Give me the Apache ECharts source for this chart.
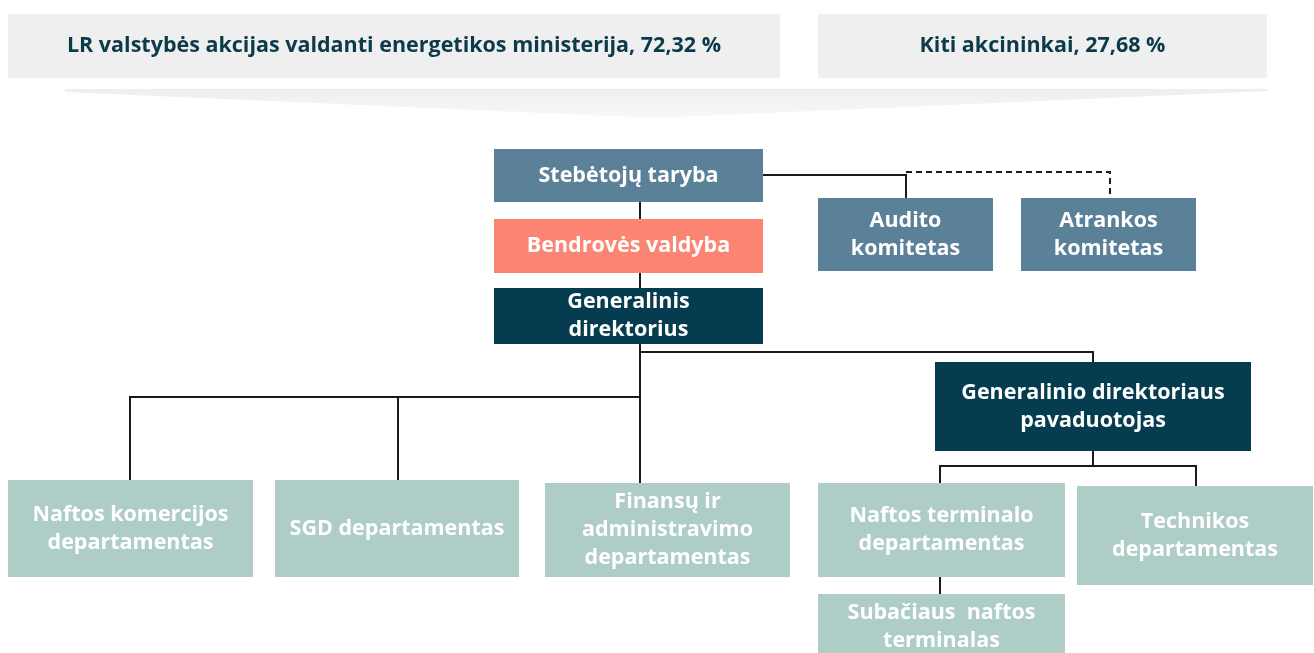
<!DOCTYPE html>
<html>
<head>
<meta charset="utf-8">
<script src="https://cdn.jsdelivr.net/npm/echarts@6/dist/echarts.min.js"></script>
<style>
  html, body { margin: 0; padding: 0; background: #ffffff; }
  #chart { width: 1314px; height: 653px; }
</style>
</head>
<body>
<div id="chart"></div>
<script>
// akcininkai
var shareholders = ['LR valstybės akcijas valdanti energetikos ministerija, 72,32 %', 'Kiti akcininkai, 27,68 %'];

// struktūros padaliniai
var units = [
  'Stebėtojų taryba',
  'Bendrovės valdyba',
  'Generalinis\ndirektorius',
  'Audito\nkomitetas',
  'Atrankos\nkomitetas',
  'Generalinio direktoriaus\npavaduotojas',
  'Naftos komercijos\ndepartamentas',
  'SGD departamentas',
  'Finansų ir\nadministravimo\ndepartamentas',
  'Naftos terminalo\ndepartamentas',
  'Technikos\ndepartamentas',
  'Subačiaus  naftos\nterminalas'
];
// padalinio tipas (spalvai)
var unitTypes = ['board', 'mgmt', 'ceo', 'board', 'board', 'ceo', 'dept', 'dept', 'dept', 'dept', 'dept', 'dept'];

// ryšiai: [iš, į, punktyras]
var links = [
  [0, 1, false], [1, 2, false], [0, 3, false], [0, 4, true],
  [2, 5, false], [2, 6, false], [2, 7, false], [2, 8, false],
  [5, 9, false], [5, 10, false], [9, 11, false]
];

// išdėstymas (pikseliai) - x0, y0, x1, y1
var shareBoxes = [[8, 14, 780, 78], [818, 14, 1267, 78]];
var unitBoxes = [
  [494, 149, 763, 202],
  [494, 219, 763, 273],
  [494, 288, 763, 344],
  [818, 198, 993, 271],
  [1021, 198, 1196, 271],
  [935, 362, 1251, 451],
  [8, 480, 253, 577],
  [275, 480, 519, 577],
  [545, 483, 790, 577],
  [818, 483, 1065, 577],
  [1077, 486, 1313, 585],
  [818, 594, 1065, 680]
];
// jungčių maršrutai (pagal links eilę)
var routes = [
  [[640, 202], [640, 219]],
  [[640, 273], [640, 288]],
  [[763, 175], [906, 175], [906, 198]],
  [[906, 172], [1110, 172], [1110, 198]],
  [[640, 344], [640, 352], [1093, 352], [1093, 362]],
  [[640, 344], [640, 397], [130, 397], [130, 480]],
  [[398, 397], [398, 480]],
  [[640, 397], [640, 483]],
  [[1093, 451], [1093, 466], [940, 466], [940, 483]],
  [[1093, 466], [1196, 466], [1196, 486]],
  [[940, 577], [940, 594]]
];
var wedge = [[65, 89], [1268, 89], [1268, 91], [655, 118], [65, 92]];

var colors = { board: '#5b8199', mgmt: '#fb8572', ceo: '#053c4f', dept: '#aecdc7' };
var fontFamily = '"Open Sans", "Noto Sans", sans-serif';

var chart = echarts.init(document.getElementById('chart'));

var boxData = [];
shareholders.forEach(function (t, i) {
  boxData.push({ box: shareBoxes[i], text: t, fill: '#efefef', color: '#0b3a4a' });
});
units.forEach(function (t, i) {
  // paskutinis langelis nukirptas apačioje - tekstą centruojam pagal visą aukštį
  boxData.push({ box: unitBoxes[i], text: t, fill: colors[unitTypes[i]], color: '#ffffff', mid: i === 11 ? [594, 660] : null });
});

var option = {
  animation: false,
  grid: { left: 0, right: 0, top: 0, bottom: 0 },
  xAxis: { type: 'value', min: 0, max: 1314, show: false },
  yAxis: { type: 'value', min: 0, max: 653, inverse: true, show: false },
  series: [
    {
      type: 'custom',
      silent: true,
      clip: false,
      data: [0],
      renderItem: function (params, api) {
        var pts = wedge.map(function (p) { return api.coord(p); });
        return {
          type: 'polygon',
          shape: { points: pts },
          style: {
            fill: new echarts.graphic.LinearGradient(0, 0, 0, 1, [
              { offset: 0, color: '#eeeeee' }, { offset: 1, color: '#f8f8f8' }
            ])
          }
        };
      }
    },
    {
      type: 'lines',
      coordinateSystem: 'cartesian2d',
      polyline: true,
      silent: true,
      z: 1,
      data: links.map(function (l, i) {
        return {
          coords: routes[i],
          lineStyle: { type: l[2] ? [6, 4] : 'solid' }
        };
      }),
      lineStyle: { color: '#1a1a1a', width: 2, opacity: 1 }
    },
    {
      type: 'custom',
      silent: true,
      clip: false,
      z: 3,
      data: boxData.map(function (d, i) { return i; }),
      renderItem: function (params, api) {
        var d = boxData[params.dataIndex];
        var p0 = api.coord([d.box[0], d.box[1]]);
        var p1 = api.coord([d.box[2], d.box[3]]);
        var cy = d.mid ? (api.coord([0, d.mid[0]])[1] + api.coord([0, d.mid[1]])[1]) / 2 : (p0[1] + p1[1]) / 2;
        return {
          type: 'group',
          children: [
            { type: 'rect', shape: { x: p0[0], y: p0[1], width: p1[0] - p0[0], height: p1[1] - p0[1] }, style: { fill: d.fill } },
            { type: 'text', x: (p0[0] + p1[0]) / 2, y: cy,
              style: { text: d.text, fill: d.color, font: 'bold 21.5px ' + fontFamily, align: 'center', verticalAlign: 'middle', lineHeight: 28 } }
          ]
        };
      }
    }
  ]
};
chart.setOption(option);
window.addEventListener('resize', function () { chart.resize(); });
</script>
</body>
</html>
